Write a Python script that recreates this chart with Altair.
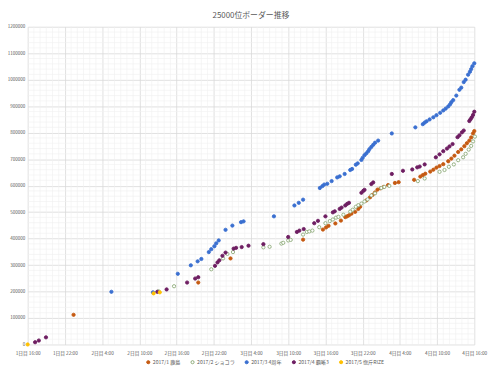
import altair as alt
import pandas as pd

SERIES = ["2017/1 鹿島", "2017/2 ショコラ", "2017/3 4周年", "2017/4 覇晰3", "2017/5 惚斤RIZE"]
COLORS = ["#C55A11", "#8DAA78", "#3A6FD0", "#6E1E62", "#FFC000"]
FILLS = ["#C55A11", "#FFFFFF", "#3A6FD0", "#6E1E62", "#FFC000"]

# hours since 1日目 16:00, values
S1_H = [7.4, 27.5, 32.7, 44.4, 47.6, 48.1, 48.5, 49.6, 50.5, 51.2, 51.5, 51.8, 52.2, 52.8, 53.3, 53.6,
        54.6, 55.2, 55.6, 56.0, 56.4, 56.9, 57.4, 58.1, 59.2, 59.8, 62.3, 63.3, 63.7, 64.1, 64.9, 65.4,
        65.9, 66.4, 67.0, 67.8, 68.3, 68.8, 69.4, 69.9, 70.4, 70.8, 71.2, 71.5, 71.8, 72.0]
S1_V = [112, 234, 325, 396, 434, 442, 448, 457, 468, 481, 484, 488, 494, 501, 512, 520,
        544, 556, 565, 574, 585, 590, 595, 602, 610, 613, 622, 634, 640, 645, 653, 660,
        668, 674, 681, 692, 702, 713, 727, 737, 749, 760, 770, 782, 797, 806]

S2_H = [21.1, 23.6, 29.6, 31.5, 32.2, 33.1, 38.0, 39.0, 40.9, 41.2, 42.0, 42.4, 44.4, 45.0, 45.4, 45.9,
        47.0, 48.0, 48.7, 49.2, 49.7, 50.1, 50.9, 52.0, 52.4, 52.9, 53.3, 53.8, 54.3, 54.8, 55.4, 56.0,
        57.0, 57.5, 58.3, 62.9, 64.0, 66.4, 67.2, 67.9, 68.7, 69.4, 70.2, 70.6, 71.1, 71.5, 71.8, 72.1]
S2_V = [201, 220, 284, 325, 342, 349, 367, 369, 381, 384, 393, 395, 415, 425, 427, 430,
        443, 458, 466, 472, 479, 482, 490, 502, 509, 520, 526, 532, 540, 548, 563, 571,
        591, 595, 599, 617, 627, 652, 659, 671, 680, 696, 707, 720, 736, 750, 767, 785]

S3_H = [13.5, 20.2, 24.2, 26.3, 27.4, 28.0, 29.2, 29.6, 30.1, 30.4, 30.8, 31.9, 33.0, 34.4, 34.8, 39.7,
        43.0, 43.7, 44.4, 47.1, 47.5, 47.8, 48.3, 49.0, 49.9, 50.3, 51.1, 52.0, 52.3, 52.9, 53.2, 53.8,
        54.0, 54.3, 54.6, 54.9, 55.1, 55.4, 55.7, 56.0, 56.5, 58.7, 62.5, 63.7, 64.0, 64.3, 64.8, 65.4,
        65.9, 66.5, 67.0, 67.4, 67.8, 68.1, 68.3, 68.6, 69.1, 69.6, 69.9, 70.3, 70.6, 71.0, 71.3, 71.5,
        71.7, 72.0]
S3_V = [199, 197, 267, 299, 314, 323, 349, 360, 371, 382, 393, 433, 449, 462, 465, 484,
        525, 535, 547, 591, 598, 604, 607, 617, 631, 635, 644, 659, 663, 679, 684, 697,
        705, 715, 722, 730, 738, 746, 754, 762, 770, 797, 820, 832, 838, 843, 850, 858,
        866, 875, 884, 891, 899, 907, 915, 923, 940, 962, 970, 991, 1000, 1019, 1030, 1040,
        1051, 1062]

S4_H = [1.2, 1.8, 2.95, 20.9, 22.4, 25.7, 27.0, 27.5, 30.2, 30.6, 30.9, 31.4, 31.9, 33.2, 33.6, 34.5,
        35.6, 38.0, 42.0, 43.4, 43.8, 44.5, 46.2, 46.8, 48.0, 49.2, 49.5, 50.3, 50.6, 51.2, 51.5, 51.8,
        53.8, 54.1, 54.3, 55.4, 55.7, 58.7, 60.5, 62.0, 62.8, 63.2, 64.0, 65.8, 66.4, 67.0, 67.6, 68.0,
        68.5, 69.3, 69.6, 70.0, 70.3, 71.2, 71.4, 71.6, 71.8, 72.0]
S4_V = [8.5, 15, 27, 199, 208, 234, 249, 254, 297, 310, 318, 335, 347, 362, 365, 368,
        373, 379, 406, 425, 430, 436, 458, 467, 484, 499, 503, 512, 517, 525, 531, 535,
        573, 580, 584, 606, 612, 644, 656, 661, 669, 672, 680, 707, 718, 730, 740, 748,
        757, 783, 790, 801, 808, 844, 851, 858, 867, 879]

S5_H = [0.0, 20.3, 21.3]
S5_V = [0, 193, 197]

X_TICKS = [0, 6, 12, 18, 24, 30, 36, 42, 48, 54, 60, 66, 72]
X_LABELS = ["1日目 16:00", "1日目 22:00", "2日目 4:00", "2日目 10:00", "2日目 16:00", "2日目 22:00",
            "3日目 4:00", "3日目 10:00", "3日目 16:00", "3日目 22:00", "4日目 4:00", "4日目 10:00",
            "4日目 16:00"]
Y_TICKS = [i * 100000 for i in range(13)]

rows = []
for name, hs, vs in zip(SERIES, [S1_H, S2_H, S3_H, S4_H, S5_H], [S1_V, S2_V, S3_V, S4_V, S5_V]):
    for h, v in zip(hs, vs):
        rows.append({"series": name, "h": h, "v": v * 1000})
df = pd.DataFrame(rows)

minor_x = pd.DataFrame({"h": [i for i in range(73) if i % 6 != 0]})
minor_y = pd.DataFrame({"v": [i * 20000 for i in range(61) if i % 5 != 0]})

label_expr = "[" + ",".join("'" + s + "'" for s in X_LABELS) + "][round(datum.value/6)]"

xscale = alt.Scale(domain=[0, 72], nice=False, zero=False)
yscale = alt.Scale(domain=[0, 1200000], nice=False)

FONT = "Noto Sans CJK JP"
xaxis = alt.Axis(values=X_TICKS, labelExpr=label_expr, title=None, grid=True,
                 gridColor="#D9D9D9", gridWidth=0.8, domain=False, ticks=False,
                 labelFontSize=4.8, labelColor="#595959", labelPadding=6, labelFont=FONT,
                 labelOverlap=False, labelFlush=False)
yaxis = alt.Axis(values=Y_TICKS, format="d", title=None, grid=True,
                 gridColor="#D9D9D9", gridWidth=0.8, domain=False, ticks=False,
                 labelFontSize=4.6, labelColor="#595959", labelPadding=3, labelFont=FONT,
                 labelOverlap=False, labelFlush=False)
legend = alt.Legend(title=None, orient="none", direction="horizontal",
                    legendX=120, legendY=338, labelFontSize=5.2,
                    labelColor="#595959", symbolSize=10, columnPadding=8,
                    labelFont=FONT, symbolStrokeWidth=1, labelOffset=2)

gx = alt.Chart(minor_x).mark_rule(color="#F0F0F0", strokeWidth=0.6).encode(
    x=alt.X("h:Q", scale=xscale, axis=xaxis))
gy = alt.Chart(minor_y).mark_rule(color="#F0F0F0", strokeWidth=0.6).encode(
    y=alt.Y("v:Q", scale=yscale, axis=yaxis))

pts = alt.Chart(df).mark_point(filled=False, size=11, strokeWidth=0.9, opacity=1, shape="circle").encode(
    x=alt.X("h:Q", scale=xscale, axis=xaxis),
    y=alt.Y("v:Q", scale=yscale, axis=yaxis),
    stroke=alt.Stroke("series:N", scale=alt.Scale(domain=SERIES, range=COLORS), legend=legend),
    fill=alt.Fill("series:N", scale=alt.Scale(domain=SERIES, range=FILLS), legend=legend),
)

chart = alt.layer(gx, gy, pts).properties(
    width=454, height=323,
    title=alt.TitleParams("25000位ボーダー推移", fontSize=8, color="#595959", fontWeight="normal",
                          font=FONT, offset=4),
    padding={"left": 20, "top": 16, "right": 18, "bottom": 30},
    autosize=alt.AutoSizeParams(type="none"),
).configure_view(stroke=None)

chart.save("out.html", embed_options={"renderer": "svg", "actions": False})
